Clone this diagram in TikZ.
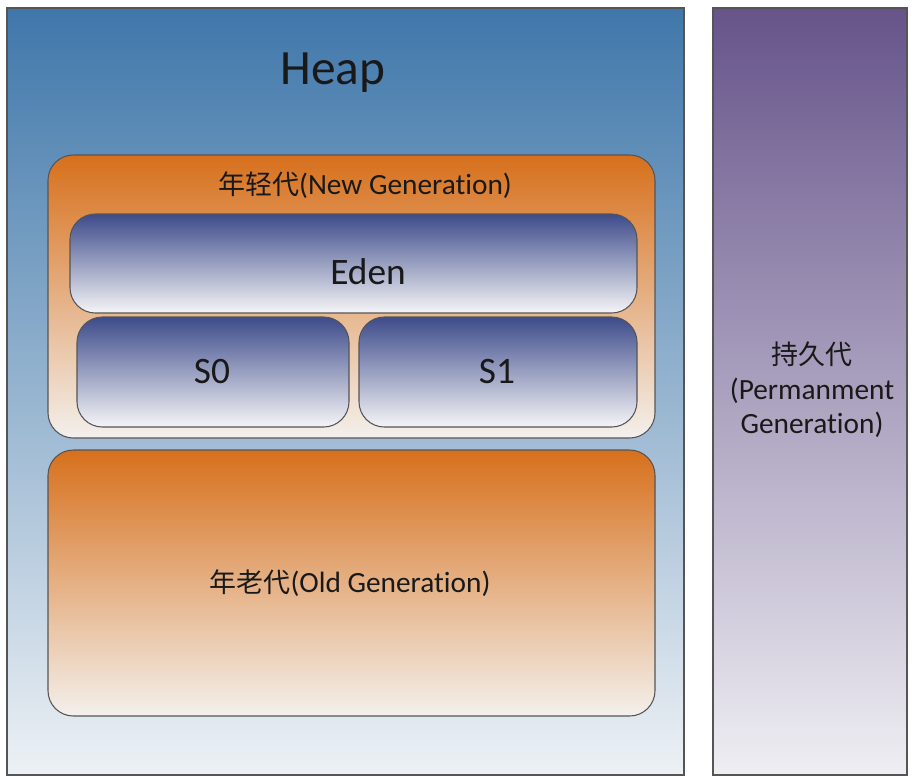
\documentclass[tikz,border=0pt]{standalone}
\usepackage{fontspec}
\setmainfont{Carlito}[Ligatures=NoCommon]
\newfontfamily\cjk{Noto Sans CJK SC}[Scale=0.92]
\usetikzlibrary{positioning}

\definecolor{heaptop}{HTML}{3F77AA}
\definecolor{heapbot}{HTML}{EDF1F5}
\definecolor{permtop}{HTML}{66548A}
\definecolor{permbot}{HTML}{EFEEF3}
\definecolor{gentop}{HTML}{D7701C}
\definecolor{genbot}{HTML}{F3F0EC}
\definecolor{spacetop}{HTML}{3D4B8A}
\definecolor{spacebot}{HTML}{F5F5F7}
\definecolor{edge}{HTML}{555555}

\tikzset{
  area/.style={draw=edge, line width=0.8pt, inner sep=0pt, shading=axis},
  heapbox/.style={area, top color=heaptop, bottom color=heapbot},
  permbox/.style={area, top color=permtop, bottom color=permbot},
  genbox/.style={area, rounded corners=19pt, top color=gentop, bottom color=genbot},
  spacebox/.style={area, rounded corners=19pt, top color=spacetop, bottom color=spacebot},
  lbl/.style={inner sep=0pt, text=black!90}
}

\begin{document}
\begin{tikzpicture}[x=0.75pt, y=-0.75pt]
			\useasboundingbox (0,0) rectangle (918,783);

			% outer areas
			\node[heapbox, minimum width=507.75pt, minimum height=575.25pt] (heap) at (345.5,391.5) {};
			\node[permbox, minimum width=145.5pt, minimum height=575.25pt] (perm) at (810,391.5) {};

			% generations and spaces
			\node[genbox, minimum width=455.25pt, minimum height=212.25pt] (young) at (351.5,296.5) {};
			\node[spacebox, minimum width=425.25pt, minimum height=74.25pt] (eden) at (353.5,263.5) {};
			\node[spacebox, minimum width=204pt, minimum height=82.5pt] (szero) at (213,372) {};
			\node[spacebox, minimum width=208.5pt, minimum height=82.5pt] (sone) at (498,372) {};
			\node[genbox, minimum width=455.25pt, minimum height=199.5pt] (old) at (351.5,583) {};

			% labels
			\node[lbl, font=\fontsize{37}{40}\selectfont] (heaplbl) at (333,73) {Heap};
			\node[lbl, font=\fontsize{22}{26}\selectfont] (younglbl) at (365,185) {{\cjk 年轻代}(New Generation)};
			\node[lbl, font=\fontsize{28}{32}\selectfont] (edenlbl) at (368,272) {Eden};
			\node[lbl, font=\fontsize{28}{32}\selectfont] (szerolbl) at (212,372) {S0};
			\node[lbl, font=\fontsize{28}{32}\selectfont] (sonelbl) at (497,372) {S1};
			\node[lbl, font=\fontsize{22}{26}\selectfont] (oldlbl) at (350,583) {{\cjk 年老代}(Old Generation)};
			\node[lbl, align=center, font=\fontsize{22}{26}\selectfont] (permlbl) at (812,390)
				{{\cjk 持久代}\\(Permanment\\Generation)};
		\end{tikzpicture}
\end{document}
